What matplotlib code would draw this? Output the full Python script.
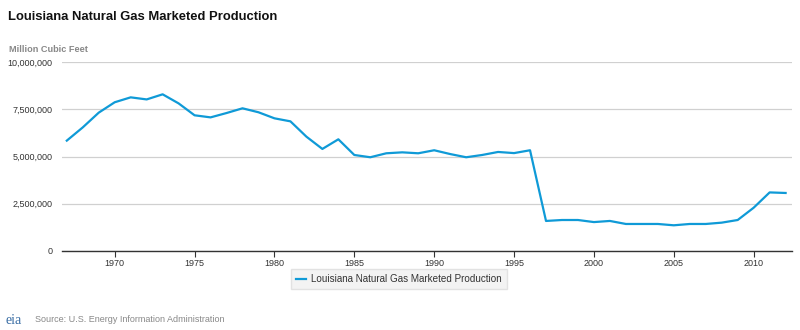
import matplotlib
matplotlib.use('Agg')
import matplotlib.pyplot as plt
import numpy as np

plt.rcParams['font.family'] = ['Liberation Sans', 'DejaVu Sans']

years = list(range(1967, 2013))
production = [5.84, 6.54, 7.32, 7.87, 8.13, 8.02, 8.29, 7.81, 7.18, 7.07,
              7.30, 7.55, 7.34, 7.02, 6.86, 6.05, 5.40, 5.91, 5.08, 4.96,
              5.17, 5.22, 5.17, 5.33, 5.13, 4.96, 5.08, 5.24, 5.18, 5.33,
              1.59, 1.64, 1.64, 1.53, 1.59, 1.43, 1.43, 1.43, 1.36, 1.43,
              1.43, 1.50, 1.64, 2.29, 3.10, 3.07]
production = [v * 1e6 for v in production]
yticks = [0, 2500000, 5000000, 7500000, 10000000]
xticks = list(range(1970, 2011, 5))
series_name = 'Louisiana Natural Gas Marketed Production'

fig = plt.figure(figsize=(8, 3.3), dpi=100)
ax = fig.add_axes([62/800, 1-251/330, 730/800, 189/330])

ax.plot(years, production, color='#0f9ad7', lw=1.6, label=series_name)

ax.set_ylim(0, 10000000)
ax.set_xlim(1967 - 0.3, 2012 + 0.4)
ax.set_yticks(yticks)
ax.set_yticklabels(['{:,}'.format(v) for v in yticks])
ax.set_xticks(xticks)
ax.grid(axis='y', color='#d0d0d0', lw=0.9)
ax.set_axisbelow(True)
for s in ['top', 'right', 'left']:
    ax.spines[s].set_visible(False)
ax.spines['bottom'].set_color('#333333')
ax.spines['bottom'].set_linewidth(1.0)
ax.tick_params(axis='y', length=0, labelsize=6.5, colors='#333333', pad=7)
ax.tick_params(axis='x', length=4, width=0.8, color='#333333', labelsize=6.5,
               labelcolor='#333333', pad=2)

fig.text(8/800, 1-17/330, 'Louisiana Natural Gas Marketed Production',
         fontsize=9.4, fontweight='bold', va='center', color='#111111')
fig.text(9/800, 1-49/330, 'Million Cubic Feet', fontsize=6.6,
         fontweight='bold', va='center', color='#888888')

leg = fig.legend(loc='center', bbox_to_anchor=(399/800, 1-279/330),
                 fontsize=7.1, frameon=True, fancybox=False,
                 handlelength=1.0, handletextpad=0.5, borderpad=0.5,
                 borderaxespad=0)
leg.get_frame().set_facecolor('#f0f0f0')
leg.get_frame().set_edgecolor('#dddddd')
for t in leg.get_texts():
    t.set_color('#333333')

fig.text(5/800, 1-320/330, 'eia', fontsize=10, color='#3a6ea5',
         va='center', family='Liberation Serif')
fig.text(35/800, 1-320/330, 'Source: U.S. Energy Information Administration',
         fontsize=6.5, color='#888888', va='center')

fig.savefig('out.png', dpi=100)
